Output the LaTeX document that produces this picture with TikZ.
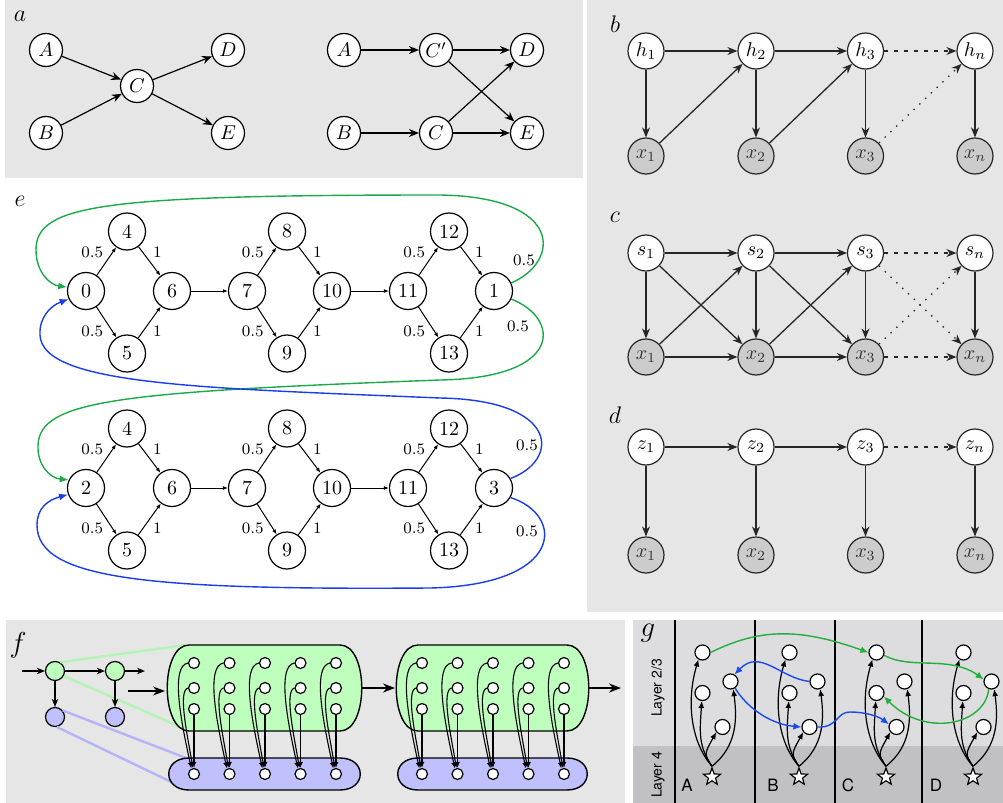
\documentclass[tikz,border=0pt]{standalone}
\usepackage{fontspec}
\newfontfamily\heros{TeX Gyre Heros}
\usetikzlibrary{arrows.meta,shapes.geometric}
\definecolor{bgc}{RGB}{230,230,230}
\definecolor{glight}{RGB}{221,220,222}
\definecolor{gdark}{RGB}{193,192,194}
\definecolor{cgreen}{RGB}{27,170,72}
\definecolor{cblue}{RGB}{25,60,240}
\definecolor{ggreen}{RGB}{35,175,60}
\definecolor{gblue}{RGB}{25,75,240}
\definecolor{fgreen}{RGB}{190,255,190}
\definecolor{fblue}{RGB}{192,192,255}
\definecolor{lgreen}{RGB}{180,245,180}
\definecolor{lblue}{RGB}{180,180,250}
\definecolor{xgray}{RGB}{204,204,204}
\begin{document}
\begin{tikzpicture}[x=0.5pt,y=-0.5pt,
  every node/.style={inner sep=0pt},
  plabel/.style={font=\large},
  pbig/.style={font=\Large},
  anode/.style={circle,draw,fill=white,line width=0.6pt,minimum size=16.5pt},
  aedge/.style={-{Stealth[length=5pt,width=4pt]},line width=0.6pt},
  bn/.style={circle,draw=black!85,fill=white,line width=0.6pt,minimum size=18pt},
  bx/.style={bn,fill=xgray,text=black!80},
  bedge/.style={-{Stealth[length=5pt,width=4pt]},line width=0.65pt,draw=black!85},
  bdash/.style={bedge,dash pattern=on 2pt off 3pt},
  bdot/.style={bedge,dash pattern=on 0.7pt off 3.3pt},
  enode/.style={circle,draw,fill=white,line width=0.6pt,minimum size=18.5pt},
  eedge/.style={-{Latex[length=2.5pt,width=2pt]},line width=0.5pt},
  elab/.style={font=\footnotesize},
  ecg/.style={-{Latex[length=4.5pt,width=3.5pt]},line width=0.7pt,draw=cgreen},
  ecb/.style={-{Latex[length=4.5pt,width=3.5pt]},line width=0.7pt,draw=cblue},
  fsm/.style={circle,draw,line width=0.6pt,minimum size=9.5pt},
  fdot/.style={circle,draw,fill=white,line width=0.6pt,minimum size=5.5pt},
  fedge/.style={-{Stealth[length=4pt,width=3.2pt]},line width=0.6pt},
  fbig/.style={-{Stealth[length=6pt,width=4.5pt]},line width=0.8pt},
  farr/.style={-{Latex[length=3pt,width=2.5pt]},line width=0.55pt},
  fcg/.style={draw,fill=fgreen,line width=0.7pt},
  fcb/.style={draw,fill=fblue,line width=0.7pt},
  lg/.style={draw=lgreen,line width=1.2pt},
  lb/.style={draw=lblue,line width=1.2pt},
  gdot/.style={circle,draw,fill=white,line width=0.6pt,minimum size=7.5pt},
  gstar/.style={star,star points=5,star point ratio=2.4,draw,fill=white,line width=0.6pt,minimum size=9pt},
  garr/.style={-{Latex[length=3.5pt,width=3pt]},line width=0.6pt},
  ggr/.style={-{Latex[length=4pt,width=3.5pt]},line width=0.7pt,draw=ggreen},
  gbl/.style={-{Latex[length=4pt,width=3.5pt]},line width=0.7pt,draw=gblue},
  gtxt/.style={font=\heros\fontsize{8.5}{10}\selectfont},
  gly/.style={font=\heros\fontsize{7}{8}\selectfont,rotate=90}
]
\useasboundingbox (0,0) rectangle (1003,803);
% backgrounds
\fill[bgc] (5,0) rectangle (583,178);
\fill[bgc] (587,0) rectangle (1003,612);
\fill[bgc] (6,620) rectangle (625,803);
\fill[glight] (633,620) rectangle (1003,746);
\fill[gdark] (633,746) rectangle (1003,803);

% ---------- panel a ----------
\node[plabel] (la) at (20,16) {$a$};
\node[anode] (aA) at (46,50) {$A$};
\node[anode] (aB) at (46,133) {$B$};
\node[anode] (aC) at (137,86) {$C$};
\node[anode] (aD) at (228,50) {$D$};
\node[anode] (aE) at (228,133) {$E$};
\draw[aedge] (aA) -- (aC);
\draw[aedge] (aB) -- (aC);
\draw[aedge] (aC) -- (aD);
\draw[aedge] (aC) -- (aE);
\node[anode] (rA) at (344,50) {$A$};
\node[anode] (rCp) at (436,50) {$C'$};
\node[anode] (rD) at (527,50) {$D$};
\node[anode] (rB) at (344,133) {$B$};
\node[anode] (rC) at (436,133) {$C$};
\node[anode] (rE) at (527,133) {$E$};
\draw[aedge] (rA) -- (rCp);
\draw[aedge] (rCp) -- (rD);
\draw[aedge] (rB) -- (rC);
\draw[aedge] (rC) -- (rE);
\draw[aedge] (rCp) -- (rE);
\draw[aedge] (rC) -- (rD);

% ---------- panels b, c, d ----------
\node[plabel] (lb) at (615,24) {$b$};
\node[plabel] (lc) at (615,217) {$c$};
\node[plabel] (ld) at (615,415) {$d$};
\foreach \x/\n [count=\i] in {646/1,756/2,865.5/3,975/n}{
  \node[bn] (bh\i) at (\x,51) {$h_{\n}$};
  \node[bx] (bx\i) at (\x,156) {$x_{\n}$};
  \draw[bedge] (bh\i) -- (bx\i);
  \node[bn] (cs\i) at (\x,253) {$s_{\n}$};
  \node[bx] (cx\i) at (\x,357) {$x_{\n}$};
  \draw[bedge] (cs\i) -- (cx\i);
  \node[bn] (dz\i) at (\x,447) {$z_{\n}$};
  \node[bx] (dx\i) at (\x,555) {$x_{\n}$};
  \draw[bedge] (dz\i) -- (dx\i);
}
\draw[bedge] (bh1) -- (bh2);
\draw[bedge] (bh2) -- (bh3);
\draw[bdash] (bh3) -- (bh4);
\draw[bedge] (bx1) -- (bh2);
\draw[bedge] (bx2) -- (bh3);
\draw[bdot] (bx3) -- (bh4);
\draw[bedge] (cs1) -- (cs2);
\draw[bedge] (cs2) -- (cs3);
\draw[bdash] (cs3) -- (cs4);
\draw[bedge] (cx1) -- (cx2);
\draw[bedge] (cx2) -- (cx3);
\draw[bdash] (cx3) -- (cx4);
\draw[bedge] (cs1) -- (cx2);
\draw[bedge] (cs2) -- (cx3);
\draw[bedge] (cx1) -- (cs2);
\draw[bedge] (cx2) -- (cs3);
\draw[bdot] (cs3) -- (cx4);
\draw[bdot] (cx3) -- (cs4);
\draw[bedge] (dz1) -- (dz2);
\draw[bedge] (dz2) -- (dz3);
\draw[bdash] (dz3) -- (dz4);

% ---------- panel e ----------
\node[plabel] (le) at (20,201) {$e$};
\foreach \p/\yy/\st/\en in {t/291/0/1,b/488/2/3}{
  \pgfmathsetmacro\yu{\yy-59.5}
  \pgfmathsetmacro\yd{\yy+62.5}
  \node[enode] (\p S) at (86,\yy) {\st};
  \node[enode] (\p4) at (127,\yu) {4};
  \node[enode] (\p5) at (127,\yd) {5};
  \node[enode] (\p6) at (172,\yy) {6};
  \node[enode] (\p7) at (247,\yy) {7};
  \node[enode] (\p8) at (287,\yu) {8};
  \node[enode] (\p9) at (287,\yd) {9};
  \node[enode] (\p10) at (332,\yy) {10};
  \node[enode] (\p11) at (408,\yy) {11};
  \node[enode] (\p12) at (449,\yu) {12};
  \node[enode] (\p13) at (449,\yd) {13};
  \node[enode] (\p E) at (494,\yy) {\en};
  \draw[eedge] (\p S) -- node[elab,above left=1.5pt]{0.5} (\p4);
  \draw[eedge] (\p S) -- node[elab,below left=1.5pt]{0.5} (\p5);
  \draw[eedge] (\p4) -- node[elab,above right=1.5pt]{1} (\p6);
  \draw[eedge] (\p5) -- node[elab,below right=1.5pt]{1} (\p6);
  \draw[eedge] (\p6) -- (\p7);
  \draw[eedge] (\p7) -- node[elab,above left=1.5pt]{0.5} (\p8);
  \draw[eedge] (\p7) -- node[elab,below left=1.5pt]{0.5} (\p9);
  \draw[eedge] (\p8) -- node[elab,above right=1.5pt]{1} (\p10);
  \draw[eedge] (\p9) -- node[elab,below right=1.5pt]{1} (\p10);
  \draw[eedge] (\p10) -- (\p11);
  \draw[eedge] (\p11) -- node[elab,above left=1.5pt]{0.5} (\p12);
  \draw[eedge] (\p11) -- node[elab,below left=1.5pt]{0.5} (\p13);
  \draw[eedge] (\p12) -- node[elab,above right=1.5pt]{1} (\p E);
  \draw[eedge] (\p13) -- node[elab,below right=1.5pt]{1} (\p E);
}
\draw[ecg] (tE.25) .. controls (560,262) and (565,197) .. (440,195)
  .. controls (100,195) and (36,205) .. (36,250)
  .. controls (36,272) and (50,285) .. (tS.168);
\draw[ecg] (tE.-25) .. controls (560,318) and (565,378) .. (440,380)
  .. controls (120,392) and (40,400) .. (38,445)
  .. controls (37,465) and (50,478) .. (bS.155);
\draw[ecb] (bE.30) .. controls (560,460) and (560,400) .. (440,398)
  .. controls (200,388) and (42,385) .. (40,335)
  .. controls (39,318) and (50,306) .. (tS.205);
\draw[ecb] (bE.-30) .. controls (565,515) and (565,585) .. (430,588)
  .. controls (150,590) and (37,580) .. (37,525)
  .. controls (37,508) and (48,500) .. (bS.200);
\node[elab] (lt1) at (524,260) {0.5};
\node[elab] (lt2) at (518,326) {0.5};
\node[elab] (lb1) at (527,445) {0.5};
\node[elab] (lb2) at (527,531) {0.5};

% ---------- panel f ----------
\node[pbig] (lf) at (18,645) {$f$};
\node[fsm,fill=fgreen] (fG1) at (55,671) {};
\node[fsm,fill=fgreen] (fG2) at (115,671) {};
\node[fsm,fill=fblue] (fB1) at (55,717) {};
\node[fsm,fill=fblue] (fB2) at (115,717) {};
\coordinate (fgtl) at (186,645);
\coordinate (fgbl) at (190,731);
\coordinate (fbtl) at (186,758);
\coordinate (fbbl) at (188,790);
\draw[lg] (fG1.60) -- (fgtl);
\draw[lg] (fG1.-30) -- (fgbl);
\draw[lb] (fB1.40) -- (fbtl);
\draw[lb] (fB1.-80) -- (fbbl);
\path[fcg] (189,645) -- (340,645) .. controls (369,645) and (369,731) .. (340,731) -- (189,731) .. controls (160,731) and (160,645) .. (189,645) -- cycle;
\path[fcb] (189,758) -- (340,758) .. controls (367,758) and (367,790) .. (340,790) -- (189,790) .. controls (162,790) and (162,758) .. (189,758) -- cycle;
\path[fcg] (418,645) -- (567,645) .. controls (596,645) and (596,731) .. (567,731) -- (418,731) .. controls (389,731) and (389,645) .. (418,645) -- cycle;
\path[fcb] (418,758) -- (567,758) .. controls (594,758) and (594,790) .. (567,790) -- (418,790) .. controls (391,790) and (391,758) .. (418,758) -- cycle;
\coordinate (fin) at (22,671);
\coordinate (fout) at (145,671);
\draw[fedge] (fin) -- (fG1);
\draw[fedge] (fG1) -- (fG2);
\draw[fedge] (fG2) -- (fout);
\draw[fedge] (fG1) -- (fB1);
\draw[fedge] (fG2) -- (fB2);
\coordinate (fbs) at (128,691);
\coordinate (fbe) at (165,691);
\draw[fbig] (fbs) -- (fbe);
\coordinate (c1r) at (362,688);
\coordinate (c2l) at (395,688);
\coordinate (c2r) at (589,688);
\coordinate (cout) at (621,688);
\draw[fbig] (c1r) -- (c2l);
\draw[fbig] (c2r) -- (cout);
\foreach \c [count=\i] in {194,229.5,265,300.5,336,422,457.5,493,528.5,564}{
  \node[fdot] (fa\i) at (\c,663) {};
  \node[fdot] (fb\i) at (\c,688) {};
  \node[fdot] (fc\i) at (\c,709) {};
  \node[fdot] (fd\i) at (\c,774) {};
  \draw[farr] (fa\i.west) .. controls +(-18,3) and +(-10,-45) .. (fd\i.115);
  \draw[farr] (fb\i.west) .. controls +(-10,3) and +(-6,-35) .. (fd\i.100);
  \draw[farr] (fc\i) -- (fd\i);
}

% ---------- panel g ----------
\node[pbig] (lg) at (648,633) {$g$};
\foreach \vx in {675,755,835,922}{
  \draw[line width=0.6pt] (\vx,620) -- (\vx,803);
}
\node[gly] (ly23) at (658,688) {Layer 2/3};
\node[gly] (ly4) at (658,775) {Layer 4};
\foreach \sx/\L/\lx [count=\i] in {712/A/687,799/B/773,886/C/848,973/D/936}{
  \node[gtxt] (gl\i) at (\lx,785) {\L};
  \node[gstar] (gs\i) at (\sx,777) {};
  \node[gdot] (ga\i) at (\sx-9.5,652.5) {};
  \node[gdot] (gb\i) at (\sx-9.5,693) {};
  \node[gdot] (gc\i) at (\sx+18.5,681.5) {};
  \node[gdot] (gd\i) at (\sx+10.5,727) {};
  \draw[garr] (gs\i.north) .. controls +(-22,-25) and +(-12,40) .. (ga\i.240);
  \draw[garr] (gs\i.north) .. controls +(-14,-20) and +(-2,30) .. (gb\i.265);
  \draw[garr] (gs\i.north) .. controls +(-8,-12) .. (gd\i.220);
  \draw[garr] (gs\i.north) .. controls +(25,-20) and +(4,30) .. (gc\i.290);
}
\draw[ggr] (ga1.east) .. controls (760,628) and (800,628) .. (ga3.west);
\draw[ggr] (ga3.-20) .. controls (910,670) and (950,655) .. (gc4.165);
\draw[ggr] (gc4.250) .. controls (985,725) and (925,738) .. (gb3.-25);
\draw[gbl] (gc2.west) .. controls (780,678) and (760,648) .. (gc1.60);
\draw[gbl] (gc1.-55) .. controls (745,705) and (768,724) .. (gd2.west);
\draw[gbl] (gd2.east) .. controls (838,728) and (836,712) .. (850,712)
  .. controls (865,712) and (878,716) .. (gd3.160);
\end{tikzpicture}
\end{document}
